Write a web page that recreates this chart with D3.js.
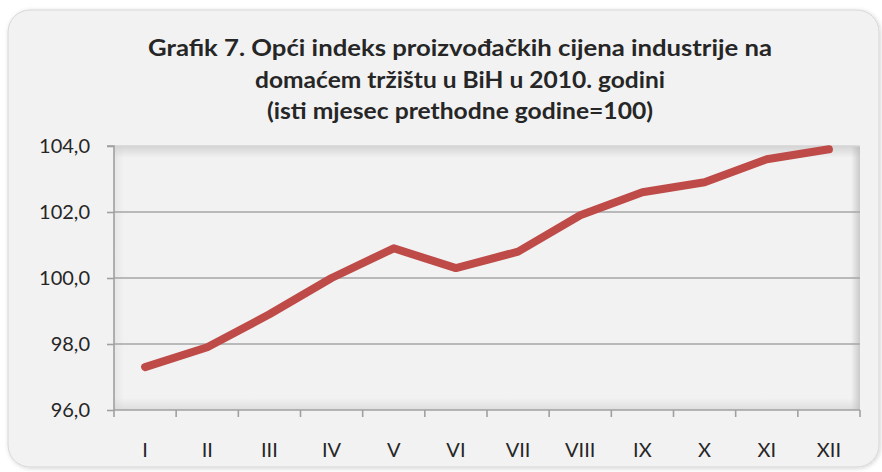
<!DOCTYPE html>
<html>
<head>
<meta charset="utf-8">
<script src="https://cdnjs.cloudflare.com/ajax/libs/d3/7.8.5/d3.min.js"></script>
<style>
  html, body { margin: 0; padding: 0; background: #ffffff; }
  svg { display: block; }
  .tick text { font-family: Lato, "Open Sans", sans-serif; }
</style>
</head>
<body>
<div id="chart"></div>
<script>
// data
const months = ['I', 'II', 'III', 'IV', 'V', 'VI', 'VII', 'VIII', 'IX', 'X', 'XI', 'XII']
const index2010 = [97.3, 97.9, 98.9, 100.0, 100.9, 100.3, 100.8, 101.9, 102.6, 102.9, 103.6, 103.9]
const yTicks = [96, 98, 100, 102, 104]
const titleLines = [
  'Grafik 7. Opći indeks proizvođačkih cijena industrije na',
  'domaćem tržištu u BiH u 2010. godini',
  '(isti mjesec prethodne godine=100)'
]

const W = 882, H = 472
const plot = {left: 114, right: 860, top: 146, bottom: 410}

const svg = d3.select('#chart').append('svg')
  .attr('width', W)
  .attr('height', H)

const defs = svg.append('defs')

// frame shadow
const shadow = defs.append('filter').attr('id', 'frameShadow')
  .attr('x', '-5%').attr('y', '-5%').attr('width', '110%').attr('height', '110%')
shadow.append('feDropShadow')
  .attr('dx', 1).attr('dy', 1).attr('stdDeviation', 2)
  .attr('flood-color', '#000').attr('flood-opacity', 0.18)

// inner shadow gradients for plot area
const grad = (id, x1, y1, x2, y2, c, op) => {
  const g = defs.append('linearGradient').attr('id', id)
    .attr('x1', x1).attr('y1', y1).attr('x2', x2).attr('y2', y2)
  g.append('stop').attr('offset', '0%').attr('stop-color', c).attr('stop-opacity', op)
  g.append('stop').attr('offset', '100%').attr('stop-color', c).attr('stop-opacity', 0)
}
grad('shTop', 0, 0, 0, 1, '#bdbdbd', 0.55)
grad('shRight', 1, 0, 0, 0, '#b0b0b0', 0.6)
grad('shBottom', 0, 1, 0, 0, '#c4c4c4', 0.45)
grad('shLeft', 0, 0, 1, 0, '#cfcfcf', 0.35)

// outer frame
svg.append('rect')
  .attr('x', 8).attr('y', 10)
  .attr('width', 871).attr('height', 457)
  .attr('rx', 22).attr('ry', 22)
  .attr('fill', '#f2f2f2')
  .attr('stroke', '#d6d6d6')
  .attr('stroke-width', 1)
  .attr('filter', 'url(#frameShadow)')

// title
const title = svg.append('g')
  .attr('font-family', 'Lato, "Open Sans", sans-serif')
  .attr('font-weight', 'bold')
  .attr('font-size', 23)
  .attr('fill', '#262626')
  .attr('text-anchor', 'middle')
const titleWidths = [624, 410, 386]
titleLines.forEach((t, i) => {
  title.append('text')
    .attr('x', 460)
    .attr('y', 56 + i * 31.5)
    .attr('textLength', titleWidths[i])
    .attr('lengthAdjust', 'spacingAndGlyphs')
    .text(t)
})

// scales
const x = d3.scaleBand()
  .domain(months)
  .range([plot.left, plot.right])

const y = d3.scaleLinear()
  .domain([96, 104])
  .range([plot.bottom, plot.top])

const fmt = v => d3.format('.1f')(v).replace('.', ',')

// plot background
svg.append('rect')
  .attr('x', plot.left).attr('y', plot.top)
  .attr('width', plot.right - plot.left).attr('height', plot.bottom - plot.top)
  .attr('fill', '#f2f2f2')

// inner shadows
svg.append('rect').attr('x', plot.left).attr('y', plot.top)
  .attr('width', plot.right - plot.left).attr('height', 12).attr('fill', 'url(#shTop)')
svg.append('rect').attr('x', plot.right - 9).attr('y', plot.top)
  .attr('width', 9).attr('height', plot.bottom - plot.top).attr('fill', 'url(#shRight)')
svg.append('rect').attr('x', plot.left).attr('y', plot.bottom - 12)
  .attr('width', plot.right - plot.left).attr('height', 12).attr('fill', 'url(#shBottom)')
svg.append('rect').attr('x', plot.left).attr('y', plot.top)
  .attr('width', 10).attr('height', plot.bottom - plot.top).attr('fill', 'url(#shLeft)')

// gridlines
svg.append('g')
  .selectAll('line')
  .data(yTicks.filter(d => d > 96))
  .join('line')
    .attr('x1', plot.left).attr('x2', plot.right)
    .attr('y1', d => y(d)).attr('y2', d => y(d))
    .attr('stroke', d => d === 104 ? '#d4d4d4' : '#a6a6a6')
    .attr('stroke-width', 1.6)

// y axis
const yAxis = svg.append('g')
  .attr('transform', `translate(${plot.left},0)`)
  .call(d3.axisLeft(y).tickValues(yTicks).tickFormat(fmt).tickSize(7).tickPadding(17))
yAxis.select('.domain').attr('stroke', '#a0a0a0').attr('stroke-width', 1.6)
  .attr('d', `M-7,${plot.top}H0V${plot.bottom}`)
yAxis.selectAll('.tick line').attr('stroke', '#a0a0a0').attr('stroke-width', 1.6)
yAxis.selectAll('.tick text').attr('font-size', 20).attr('fill', '#262626')

// x axis: boundary ticks
const bounds = months.map(m => x(m)).concat([x.range()[1]])
svg.append('g')
  .selectAll('line')
  .data(bounds)
  .join('line')
    .attr('x1', d => d).attr('x2', d => d)
    .attr('y1', plot.bottom).attr('y2', plot.bottom + 7)
    .attr('stroke', '#a0a0a0').attr('stroke-width', 1.6)
svg.append('line')
  .attr('x1', plot.left).attr('x2', plot.right)
  .attr('y1', plot.bottom).attr('y2', plot.bottom)
  .attr('stroke', '#a0a0a0').attr('stroke-width', 1.6)

// x axis labels
const xAxis = svg.append('g')
  .attr('transform', `translate(0,${plot.bottom})`)
  .call(d3.axisBottom(x).tickSize(0).tickPadding(33))
xAxis.select('.domain').remove()
xAxis.selectAll('.tick text').attr('font-size', 20).attr('fill', '#262626')

// line
const line = d3.line()
  .x((d, i) => x(months[i]) + x.bandwidth() / 2)
  .y(d => y(d))

svg.append('path')
  .datum(index2010)
  .attr('d', line)
  .attr('fill', 'none')
  .attr('stroke', '#be4b48')
  .attr('stroke-width', 8)
  .attr('stroke-linecap', 'round')
  .attr('stroke-linejoin', 'round')
</script>
</body>
</html>
